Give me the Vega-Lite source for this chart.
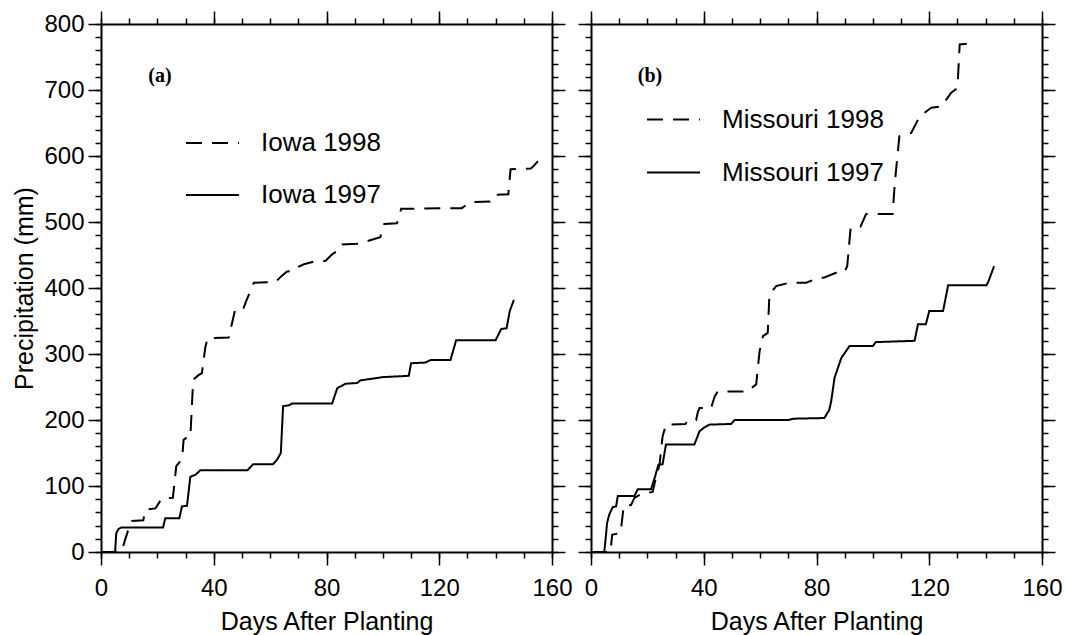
{
  "$schema": "https://vega.github.io/schema/vega-lite/v6.json",
  "padding": {"left": 12, "top": 10, "right": 3, "bottom": 2},
  "bounds": "flush",
  "spacing": 39,
  "resolve": {"scale": {"strokeDash": "independent"}, "legend": {"strokeDash": "independent"}},
  "datasets": {
    "iowa": [
      {"day": 0, "mm": 0, "series": "Iowa 1997"},
      {"day": 5, "mm": 0, "series": "Iowa 1997"},
      {"day": 5.4, "mm": 28, "series": "Iowa 1997"},
      {"day": 6.2, "mm": 35, "series": "Iowa 1997"},
      {"day": 7.2, "mm": 37, "series": "Iowa 1997"},
      {"day": 22, "mm": 37, "series": "Iowa 1997"},
      {"day": 22.8, "mm": 51, "series": "Iowa 1997"},
      {"day": 27.8, "mm": 51, "series": "Iowa 1997"},
      {"day": 28.7, "mm": 69, "series": "Iowa 1997"},
      {"day": 30.5, "mm": 70, "series": "Iowa 1997"},
      {"day": 31.7, "mm": 114, "series": "Iowa 1997"},
      {"day": 33.5, "mm": 117, "series": "Iowa 1997"},
      {"day": 35.3, "mm": 124, "series": "Iowa 1997"},
      {"day": 52, "mm": 124, "series": "Iowa 1997"},
      {"day": 54, "mm": 133, "series": "Iowa 1997"},
      {"day": 61, "mm": 133, "series": "Iowa 1997"},
      {"day": 62.5, "mm": 140, "series": "Iowa 1997"},
      {"day": 63.8, "mm": 150, "series": "Iowa 1997"},
      {"day": 64.6, "mm": 221, "series": "Iowa 1997"},
      {"day": 66.5, "mm": 222, "series": "Iowa 1997"},
      {"day": 67.8, "mm": 225, "series": "Iowa 1997"},
      {"day": 82, "mm": 225, "series": "Iowa 1997"},
      {"day": 83.8, "mm": 248, "series": "Iowa 1997"},
      {"day": 86.7, "mm": 255, "series": "Iowa 1997"},
      {"day": 90.9, "mm": 256, "series": "Iowa 1997"},
      {"day": 92, "mm": 260, "series": "Iowa 1997"},
      {"day": 98.5, "mm": 264, "series": "Iowa 1997"},
      {"day": 100, "mm": 265, "series": "Iowa 1997"},
      {"day": 105, "mm": 266, "series": "Iowa 1997"},
      {"day": 109.2, "mm": 267, "series": "Iowa 1997"},
      {"day": 110, "mm": 286, "series": "Iowa 1997"},
      {"day": 115, "mm": 287, "series": "Iowa 1997"},
      {"day": 117, "mm": 291, "series": "Iowa 1997"},
      {"day": 124, "mm": 291, "series": "Iowa 1997"},
      {"day": 126, "mm": 321, "series": "Iowa 1997"},
      {"day": 140, "mm": 321, "series": "Iowa 1997"},
      {"day": 142, "mm": 338, "series": "Iowa 1997"},
      {"day": 143.9, "mm": 339, "series": "Iowa 1997"},
      {"day": 145, "mm": 365, "series": "Iowa 1997"},
      {"day": 146.5, "mm": 382, "series": "Iowa 1997"},
      {"day": 0, "mm": 0, "series": "Iowa 1998"},
      {"day": 6.5, "mm": 0, "series": "Iowa 1998"},
      {"day": 7.5, "mm": 3, "series": "Iowa 1998"},
      {"day": 8.5, "mm": 18, "series": "Iowa 1998"},
      {"day": 9.2, "mm": 27, "series": "Iowa 1998"},
      {"day": 10.4, "mm": 44, "series": "Iowa 1998"},
      {"day": 11, "mm": 47, "series": "Iowa 1998"},
      {"day": 15, "mm": 48, "series": "Iowa 1998"},
      {"day": 15.7, "mm": 64, "series": "Iowa 1998"},
      {"day": 19.3, "mm": 66, "series": "Iowa 1998"},
      {"day": 20.5, "mm": 74, "series": "Iowa 1998"},
      {"day": 21.4, "mm": 81, "series": "Iowa 1998"},
      {"day": 25.5, "mm": 82, "series": "Iowa 1998"},
      {"day": 26.7, "mm": 130, "series": "Iowa 1998"},
      {"day": 28, "mm": 137, "series": "Iowa 1998"},
      {"day": 28.8, "mm": 142, "series": "Iowa 1998"},
      {"day": 29.3, "mm": 170, "series": "Iowa 1998"},
      {"day": 30.3, "mm": 173, "series": "Iowa 1998"},
      {"day": 31.7, "mm": 174, "series": "Iowa 1998"},
      {"day": 32.7, "mm": 261, "series": "Iowa 1998"},
      {"day": 34.6, "mm": 268, "series": "Iowa 1998"},
      {"day": 35.8, "mm": 271, "series": "Iowa 1998"},
      {"day": 37, "mm": 310, "series": "Iowa 1998"},
      {"day": 37.8, "mm": 324, "series": "Iowa 1998"},
      {"day": 45.3, "mm": 325, "series": "Iowa 1998"},
      {"day": 47.7, "mm": 369, "series": "Iowa 1998"},
      {"day": 50.6, "mm": 370, "series": "Iowa 1998"},
      {"day": 51.5, "mm": 380, "series": "Iowa 1998"},
      {"day": 54.2, "mm": 408, "series": "Iowa 1998"},
      {"day": 61.9, "mm": 409, "series": "Iowa 1998"},
      {"day": 64, "mm": 418, "series": "Iowa 1998"},
      {"day": 66, "mm": 425, "series": "Iowa 1998"},
      {"day": 68.4, "mm": 426, "series": "Iowa 1998"},
      {"day": 70, "mm": 432, "series": "Iowa 1998"},
      {"day": 72, "mm": 436, "series": "Iowa 1998"},
      {"day": 75.5, "mm": 440, "series": "Iowa 1998"},
      {"day": 79.6, "mm": 441, "series": "Iowa 1998"},
      {"day": 82, "mm": 451, "series": "Iowa 1998"},
      {"day": 84.5, "mm": 458, "series": "Iowa 1998"},
      {"day": 85.5, "mm": 466, "series": "Iowa 1998"},
      {"day": 90.9, "mm": 467, "series": "Iowa 1998"},
      {"day": 94.4, "mm": 471, "series": "Iowa 1998"},
      {"day": 99.1, "mm": 477, "series": "Iowa 1998"},
      {"day": 100.5, "mm": 497, "series": "Iowa 1998"},
      {"day": 105, "mm": 498, "series": "Iowa 1998"},
      {"day": 106.5, "mm": 520, "series": "Iowa 1998"},
      {"day": 128, "mm": 521, "series": "Iowa 1998"},
      {"day": 131, "mm": 530, "series": "Iowa 1998"},
      {"day": 138, "mm": 531, "series": "Iowa 1998"},
      {"day": 139.5, "mm": 541, "series": "Iowa 1998"},
      {"day": 144.5, "mm": 542, "series": "Iowa 1998"},
      {"day": 145.3, "mm": 580, "series": "Iowa 1998"},
      {"day": 152.5, "mm": 581, "series": "Iowa 1998"},
      {"day": 153.5, "mm": 585, "series": "Iowa 1998"},
      {"day": 155, "mm": 592, "series": "Iowa 1998"}
    ],
    "missouri": [
      {"day": 0, "mm": 0, "series": "Missouri 1997"},
      {"day": 4.7, "mm": 0, "series": "Missouri 1997"},
      {"day": 5.3, "mm": 25, "series": "Missouri 1997"},
      {"day": 5.7, "mm": 44, "series": "Missouri 1997"},
      {"day": 6.5, "mm": 57, "series": "Missouri 1997"},
      {"day": 7.7, "mm": 68, "series": "Missouri 1997"},
      {"day": 8.9, "mm": 69, "series": "Missouri 1997"},
      {"day": 9.5, "mm": 85, "series": "Missouri 1997"},
      {"day": 15.4, "mm": 85, "series": "Missouri 1997"},
      {"day": 16.6, "mm": 95, "series": "Missouri 1997"},
      {"day": 21.3, "mm": 95, "series": "Missouri 1997"},
      {"day": 22.7, "mm": 114, "series": "Missouri 1997"},
      {"day": 23.9, "mm": 132, "series": "Missouri 1997"},
      {"day": 25.4, "mm": 133, "series": "Missouri 1997"},
      {"day": 26.6, "mm": 163, "series": "Missouri 1997"},
      {"day": 36.7, "mm": 163, "series": "Missouri 1997"},
      {"day": 38.5, "mm": 183, "series": "Missouri 1997"},
      {"day": 40, "mm": 188, "series": "Missouri 1997"},
      {"day": 42, "mm": 193, "series": "Missouri 1997"},
      {"day": 49.7, "mm": 194, "series": "Missouri 1997"},
      {"day": 50.9, "mm": 200, "series": "Missouri 1997"},
      {"day": 70, "mm": 200, "series": "Missouri 1997"},
      {"day": 72, "mm": 202, "series": "Missouri 1997"},
      {"day": 82.8, "mm": 203, "series": "Missouri 1997"},
      {"day": 84.5, "mm": 215, "series": "Missouri 1997"},
      {"day": 85.2, "mm": 228, "series": "Missouri 1997"},
      {"day": 86.4, "mm": 264, "series": "Missouri 1997"},
      {"day": 88.8, "mm": 294, "series": "Missouri 1997"},
      {"day": 91.7, "mm": 312, "series": "Missouri 1997"},
      {"day": 100, "mm": 312, "series": "Missouri 1997"},
      {"day": 101, "mm": 318, "series": "Missouri 1997"},
      {"day": 114.8, "mm": 320, "series": "Missouri 1997"},
      {"day": 116, "mm": 345, "series": "Missouri 1997"},
      {"day": 118.8, "mm": 345, "series": "Missouri 1997"},
      {"day": 120, "mm": 365, "series": "Missouri 1997"},
      {"day": 124.9, "mm": 365, "series": "Missouri 1997"},
      {"day": 126.7, "mm": 404, "series": "Missouri 1997"},
      {"day": 140.3, "mm": 404, "series": "Missouri 1997"},
      {"day": 141, "mm": 410, "series": "Missouri 1997"},
      {"day": 143, "mm": 433, "series": "Missouri 1997"},
      {"day": 0, "mm": 0, "series": "Missouri 1998"},
      {"day": 6.9, "mm": 0, "series": "Missouri 1998"},
      {"day": 7.5, "mm": 26, "series": "Missouri 1998"},
      {"day": 10.5, "mm": 29, "series": "Missouri 1998"},
      {"day": 11.6, "mm": 70, "series": "Missouri 1998"},
      {"day": 14.2, "mm": 71, "series": "Missouri 1998"},
      {"day": 15.4, "mm": 82, "series": "Missouri 1998"},
      {"day": 18.4, "mm": 89, "series": "Missouri 1998"},
      {"day": 21.9, "mm": 91, "series": "Missouri 1998"},
      {"day": 23.1, "mm": 114, "series": "Missouri 1998"},
      {"day": 24.3, "mm": 132, "series": "Missouri 1998"},
      {"day": 25.4, "mm": 175, "series": "Missouri 1998"},
      {"day": 26.6, "mm": 193, "series": "Missouri 1998"},
      {"day": 33.5, "mm": 194, "series": "Missouri 1998"},
      {"day": 34.3, "mm": 199, "series": "Missouri 1998"},
      {"day": 37.3, "mm": 200, "series": "Missouri 1998"},
      {"day": 37.9, "mm": 212, "series": "Missouri 1998"},
      {"day": 38.5, "mm": 218, "series": "Missouri 1998"},
      {"day": 42.6, "mm": 218, "series": "Missouri 1998"},
      {"day": 43.8, "mm": 235, "series": "Missouri 1998"},
      {"day": 44.9, "mm": 243, "series": "Missouri 1998"},
      {"day": 55.6, "mm": 243, "series": "Missouri 1998"},
      {"day": 57.4, "mm": 250, "series": "Missouri 1998"},
      {"day": 58.6, "mm": 254, "series": "Missouri 1998"},
      {"day": 59.8, "mm": 304, "series": "Missouri 1998"},
      {"day": 61, "mm": 327, "series": "Missouri 1998"},
      {"day": 62.7, "mm": 332, "series": "Missouri 1998"},
      {"day": 63.3, "mm": 390, "series": "Missouri 1998"},
      {"day": 65.7, "mm": 403, "series": "Missouri 1998"},
      {"day": 70.3, "mm": 408, "series": "Missouri 1998"},
      {"day": 76.3, "mm": 408, "series": "Missouri 1998"},
      {"day": 80.5, "mm": 415, "series": "Missouri 1998"},
      {"day": 82.8, "mm": 416, "series": "Missouri 1998"},
      {"day": 86.9, "mm": 423, "series": "Missouri 1998"},
      {"day": 89.9, "mm": 424, "series": "Missouri 1998"},
      {"day": 90.9, "mm": 433, "series": "Missouri 1998"},
      {"day": 92.1, "mm": 491, "series": "Missouri 1998"},
      {"day": 95.6, "mm": 493, "series": "Missouri 1998"},
      {"day": 97.6, "mm": 512, "series": "Missouri 1998"},
      {"day": 107, "mm": 512, "series": "Missouri 1998"},
      {"day": 107.8, "mm": 560, "series": "Missouri 1998"},
      {"day": 109.4, "mm": 630, "series": "Missouri 1998"},
      {"day": 113.6, "mm": 635, "series": "Missouri 1998"},
      {"day": 116.6, "mm": 660, "series": "Missouri 1998"},
      {"day": 120.7, "mm": 673, "series": "Missouri 1998"},
      {"day": 124.3, "mm": 675, "series": "Missouri 1998"},
      {"day": 127.8, "mm": 696, "series": "Missouri 1998"},
      {"day": 130, "mm": 703, "series": "Missouri 1998"},
      {"day": 130.8, "mm": 769, "series": "Missouri 1998"},
      {"day": 136.1, "mm": 771, "series": "Missouri 1998"}
    ]
  },
  "hconcat": [
    {
      "width": 451,
      "height": 528,
      "data": {"name": "iowa"},
      "layer": [
        {
          "mark": {"type": "line", "color": "black", "strokeWidth": 2},
          "encoding": {
            "x": {"field": "day", "type": "quantitative", "scale": {"domain": [0, 160], "nice": false},
              "axis": {"orient": "bottom", "values": [0, 40, 80, 120, 160], "tickSize": 13, "labelPadding": 11, "title": "Days After Planting", "titlePadding": 9}},
            "y": {"field": "mm", "type": "quantitative", "scale": {"domain": [0, 800], "nice": false},
              "axis": {"orient": "left", "values": [0, 100, 200, 300, 400, 500, 600, 700, 800], "tickSize": 13, "labelPadding": 4, "title": "Precipitation (mm)", "titlePadding": 6}},
            "strokeDash": {"field": "series", "type": "nominal",
              "scale": {"domain": ["Iowa 1998", "Iowa 1997"], "range": [[16, 10], [1, 0]]},
              "legend": {"title": null, "orient": "none", "legendX": 84, "legendY": 91.5, "symbolType": "stroke", "symbolSize": 2809, "symbolStrokeWidth": 2, "symbolStrokeColor": "black", "labelFont": "Liberation Sans", "labelFontSize": 26, "labelColor": "black", "labelOffset": 21, "labelLimit": 400, "rowPadding": 11, "padding": 0}}
          }
        },
        {
          "data": {"values": [{}]},
          "mark": {"type": "text", "text": "(a)", "font": "Liberation Serif", "fontWeight": "bold", "fontSize": 20, "align": "left", "baseline": "middle", "color": "black"},
          "encoding": {
            "x": {"datum": 16.8, "type": "quantitative", "axis": null},
            "y": {"datum": 721, "type": "quantitative", "axis": null}
          }
        },
        {
          "mark": {"type": "text", "text": ""},
          "encoding": {
            "x": {"field": "day", "type": "quantitative", "axis": {"orient": "bottom", "values": [0, 10, 20, 30, 40, 50, 60, 70, 80, 90, 100, 110, 120, 130, 140, 150, 160], "tickSize": 6, "labels": false, "domain": false, "title": null}},
            "y": {"field": "mm", "type": "quantitative", "axis": {"orient": "left", "values": [0, 20, 40, 60, 80, 100, 120, 140, 160, 180, 200, 220, 240, 260, 280, 300, 320, 340, 360, 380, 400, 420, 440, 460, 480, 500, 520, 540, 560, 580, 600, 620, 640, 660, 680, 700, 720, 740, 760, 780, 800], "tickSize": 6, "labels": false, "domain": false, "title": null}}
          }
        },
        {
          "mark": {"type": "text", "text": ""},
          "encoding": {
            "x": {"field": "day", "type": "quantitative", "axis": {"orient": "top", "values": [0, 40, 80, 120, 160], "tickSize": 13, "labels": false, "title": null}},
            "y": {"field": "mm", "type": "quantitative", "axis": {"orient": "right", "values": [0, 100, 200, 300, 400, 500, 600, 700, 800], "tickSize": 13, "labels": false, "title": null}}
          }
        },
        {
          "mark": {"type": "text", "text": ""},
          "encoding": {
            "x": {"field": "day", "type": "quantitative", "axis": {"orient": "top", "values": [0, 10, 20, 30, 40, 50, 60, 70, 80, 90, 100, 110, 120, 130, 140, 150, 160], "tickSize": 6, "labels": false, "domain": false, "title": null}},
            "y": {"field": "mm", "type": "quantitative", "axis": {"orient": "right", "values": [0, 20, 40, 60, 80, 100, 120, 140, 160, 180, 200, 220, 240, 260, 280, 300, 320, 340, 360, 380, 400, 420, 440, 460, 480, 500, 520, 540, 560, 580, 600, 620, 640, 660, 680, 700, 720, 740, 760, 780, 800], "tickSize": 6, "labels": false, "domain": false, "title": null}}
          }
        }
      ],
      "resolve": {"axis": {"x": "independent", "y": "independent"}}
    },
    {
      "width": 451,
      "height": 528,
      "data": {"name": "missouri"},
      "layer": [
        {
          "mark": {"type": "line", "color": "black", "strokeWidth": 2},
          "encoding": {
            "x": {"field": "day", "type": "quantitative", "scale": {"domain": [0, 160], "nice": false},
              "axis": {"orient": "bottom", "values": [0, 40, 80, 120, 160], "tickSize": 13, "labelPadding": 11, "title": "Days After Planting", "titlePadding": 9}},
            "y": {"field": "mm", "type": "quantitative", "scale": {"domain": [0, 800], "nice": false},
              "axis": {"orient": "left", "values": [0, 100, 200, 300, 400, 500, 600, 700, 800], "tickSize": 13, "labels": false, "title": null}},
            "strokeDash": {"field": "series", "type": "nominal",
              "scale": {"domain": ["Missouri 1998", "Missouri 1997"], "range": [[16, 10], [1, 0]]},
              "legend": {"title": null, "orient": "none", "legendX": 55, "legendY": 68, "symbolType": "stroke", "symbolSize": 2809, "symbolStrokeWidth": 2, "symbolStrokeColor": "black", "labelFont": "Liberation Sans", "labelFontSize": 26, "labelColor": "black", "labelOffset": 21, "labelLimit": 400, "rowPadding": 12, "padding": 0}}
          }
        },
        {
          "data": {"values": [{}]},
          "mark": {"type": "text", "text": "(b)", "font": "Liberation Serif", "fontWeight": "bold", "fontSize": 20, "align": "left", "baseline": "middle", "color": "black"},
          "encoding": {
            "x": {"datum": 16.6, "type": "quantitative", "axis": null},
            "y": {"datum": 721, "type": "quantitative", "axis": null}
          }
        },
        {
          "mark": {"type": "text", "text": ""},
          "encoding": {
            "x": {"field": "day", "type": "quantitative", "axis": {"orient": "bottom", "values": [0, 10, 20, 30, 40, 50, 60, 70, 80, 90, 100, 110, 120, 130, 140, 150, 160], "tickSize": 6, "labels": false, "domain": false, "title": null}},
            "y": {"field": "mm", "type": "quantitative", "axis": {"orient": "left", "values": [0, 20, 40, 60, 80, 100, 120, 140, 160, 180, 200, 220, 240, 260, 280, 300, 320, 340, 360, 380, 400, 420, 440, 460, 480, 500, 520, 540, 560, 580, 600, 620, 640, 660, 680, 700, 720, 740, 760, 780, 800], "tickSize": 6, "labels": false, "domain": false, "title": null}}
          }
        },
        {
          "mark": {"type": "text", "text": ""},
          "encoding": {
            "x": {"field": "day", "type": "quantitative", "axis": {"orient": "top", "values": [0, 40, 80, 120, 160], "tickSize": 13, "labels": false, "title": null}},
            "y": {"field": "mm", "type": "quantitative", "axis": {"orient": "right", "values": [0, 100, 200, 300, 400, 500, 600, 700, 800], "tickSize": 13, "labels": false, "title": null}}
          }
        },
        {
          "mark": {"type": "text", "text": ""},
          "encoding": {
            "x": {"field": "day", "type": "quantitative", "axis": {"orient": "top", "values": [0, 10, 20, 30, 40, 50, 60, 70, 80, 90, 100, 110, 120, 130, 140, 150, 160], "tickSize": 6, "labels": false, "domain": false, "title": null}},
            "y": {"field": "mm", "type": "quantitative", "axis": {"orient": "right", "values": [0, 20, 40, 60, 80, 100, 120, 140, 160, 180, 200, 220, 240, 260, 280, 300, 320, 340, 360, 380, 400, 420, 440, 460, 480, 500, 520, 540, 560, 580, 600, 620, 640, 660, 680, 700, 720, 740, 760, 780, 800], "tickSize": 6, "labels": false, "domain": false, "title": null}}
          }
        }
      ],
      "resolve": {"axis": {"x": "independent", "y": "independent"}}
    }
  ],
  "config": {
    "view": {"stroke": null},
    "axis": {
      "labelFont": "Liberation Sans", "titleFont": "Liberation Sans",
      "labelFontSize": 24, "titleFontSize": 25, "titleFontWeight": "normal",
      "labelColor": "black", "titleColor": "black",
      "tickColor": "black", "domainColor": "black", "domainWidth": 2, "tickWidth": 1.5,
      "grid": false, "labelFlush": false, "labelOverlap": false
    }
  }
}
